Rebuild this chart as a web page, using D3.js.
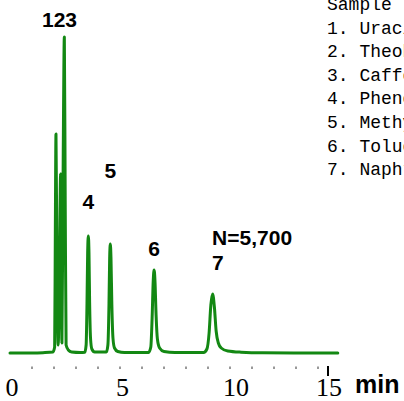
<!DOCTYPE html>
<html>
<head>
<meta charset="utf-8">
<script src="https://cdn.jsdelivr.net/npm/d3@7"></script>
<style>
  html, body { margin: 0; padding: 0; background: #fff; overflow: hidden; }
  svg { display: block; }
</style>
</head>
<body>
<svg id="chart" width="404" height="401"></svg>
<script>
// ---- data ----
// chromatogram trace: [time (min), signal (a.u.)]
const trace = [
  [0.0, 0], [1.0, 0], [1.5, 0.3], [1.95, 1],
  [2.03, 6], [2.06, 120], [2.09, 219], [2.13, 100], [2.19, 8],
  [2.25, 90], [2.30, 179], [2.33, 80], [2.36, 10],
  [2.42, 200], [2.47, 316], [2.51, 150], [2.55, 8], [2.65, 3], [2.8, 1], [3.2, 0.5],
  [3.40, 0.8], [3.46, 8], [3.50, 50], [3.53, 100], [3.56, 117], [3.59, 100], [3.62, 50], [3.66, 15], [3.72, 4], [3.85, 1],
  [4.38, 1], [4.45, 8], [4.50, 50], [4.53, 95], [4.56, 109], [4.59, 95], [4.63, 48], [4.68, 15], [4.75, 5], [4.9, 1.5], [5.2, 0.5],
  [6.30, 0.5], [6.40, 6], [6.46, 35], [6.51, 72], [6.55, 83], [6.59, 72], [6.64, 38], [6.70, 14], [6.80, 5], [7.0, 1.5], [7.5, 0.5],
  [8.80, 0.5], [8.95, 4], [9.05, 20], [9.13, 48], [9.21, 59], [9.29, 46], [9.37, 22], [9.47, 10], [9.6, 5], [9.9, 2], [10.5, 0.8], [11.5, 0.2],
  [14.9, 0]
];
// peak labels: text, retention time, height of the peak apex
const peakLabels = ["123", "4", "5", "6", "7"];
const peakTimes  = [2.25, 3.56, 4.56, 6.55, 9.21];
const peakTops   = [316, 117, 109, 83, 59];
const plateCount = "N=5,700";
const axisTicks = [0, 5, 10, 15];
const minorTicks = [1,2,3,4,5,6,7,8,9,10,11,12,13,14];
const unitLabel = "min";
const legendTitle = "Sample";
const legendItems = ["Uracil", "Theobromine", "Caffeine", "Phenol", "Methyl benzoate", "Toluene", "Naphthalene"];

// ---- scales ----
const svg = d3.select("#chart");
const x = d3.scaleLinear().domain([0, 15]).range([10, 340]);
const y = d3.scaleLinear().domain([0, 320]).range([353, 33]);
// label placement scale (labels in the original are hand-placed)
const xLabel = d3.scaleLinear().domain([0, 5, 10, 15]).range([12, 122.5, 236, 329]);

const green = "#138813";

// ---- trace ----
svg.append("path")
  .datum(trace)
  .attr("fill", "none")
  .attr("stroke", green)
  .attr("stroke-width", 3)
  .attr("stroke-linejoin", "round")
  .attr("stroke-linecap", "round")
  .attr("d", d3.line().x(d => x(d[0])).y(d => y(d[1])).curve(d3.curveMonotoneX));

// ---- axis ticks ----
svg.append("g").selectAll("line.minor")
  .data(minorTicks).join("line")
  .attr("x1", d => x(d)).attr("x2", d => x(d))
  .attr("y1", 366.5).attr("y2", 369)
  .attr("stroke", "#333").attr("stroke-width", 1);

svg.append("line")
  .attr("x1", xLabel(15) - 1).attr("x2", xLabel(15) - 1)
  .attr("y1", 366).attr("y2", 376)
  .attr("stroke", "#000").attr("stroke-width", 2);

svg.append("g").selectAll("text")
  .data(axisTicks).join("text")
  .attr("x", d => xLabel(d))
  .attr("y", 396)
  .attr("text-anchor", "middle")
  .attr("font-family", "'Liberation Serif', 'DejaVu Serif', serif")
  .attr("font-size", 26)
  .attr("fill", "#000")
  .text(d => d);

svg.append("text")
  .attr("x", 355).attr("y", 393)
  .attr("font-family", "'Liberation Sans', Arial, sans-serif")
  .attr("font-weight", "bold")
  .attr("font-size", 25)
  .attr("fill", "#000")
  .text(unitLabel);

// ---- peak labels ----
const labelOffsets = [10, 27, 66, 14, 24]; // gap between apex and label baseline
svg.append("g").selectAll("text")
  .data(peakLabels).join("text")
  .attr("x", (d, i) => i === 4 ? x(peakTimes[i]) - 0.5 : x(peakTimes[i]))
  .attr("y", (d, i) => y(peakTops[i]) - labelOffsets[i])
  .attr("text-anchor", (d, i) => i === 4 ? "start" : "middle")
  .attr("font-family", "'Liberation Sans', Arial, sans-serif")
  .attr("font-weight", "bold")
  .attr("font-size", 21)
  .attr("fill", "#000")
  .text(d => d);

svg.append("text")
  .attr("x", x(peakTimes[4]) - 0.5)
  .attr("y", 245)
  .attr("font-family", "'Liberation Sans', Arial, sans-serif")
  .attr("font-weight", "bold")
  .attr("font-size", 21)
  .attr("fill", "#000")
  .text(plateCount);

// ---- legend (clipped by the right edge, as in the original) ----
const legend = svg.append("g")
  .attr("font-family", "'Liberation Mono', 'DejaVu Sans Mono', monospace")
  .attr("font-size", 18)
  .attr("fill", "#000");
legend.append("text").attr("x", 327).attr("y", 10).text(legendTitle);
legend.selectAll("text.item")
  .data(legendItems).join("text")
  .attr("class", "item")
  .attr("x", 327)
  .attr("y", (d, i) => 33.5 + i * 23.6)
  .style("white-space", "pre")
  .text((d, i) => `${i + 1}. ${d}`);
</script>
</body>
</html>
